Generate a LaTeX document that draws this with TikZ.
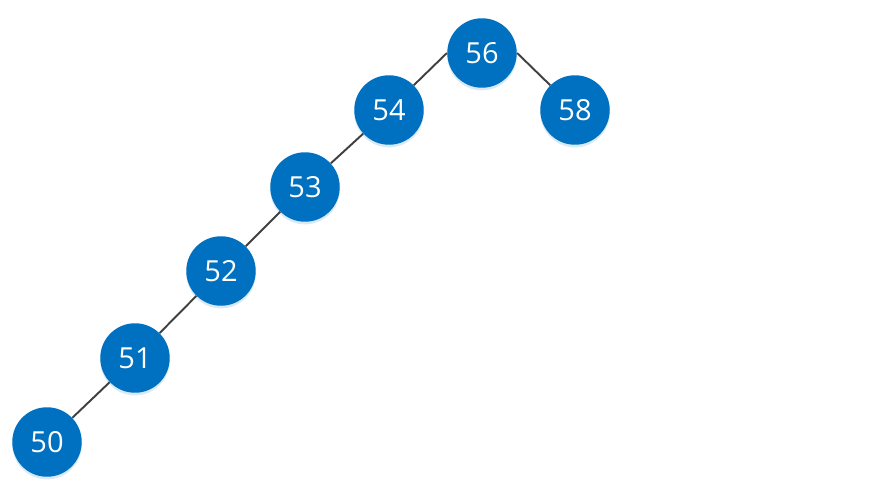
\documentclass[tikz,border=0pt]{standalone}
\usepackage{fontspec}
\setmainfont{Open Sans}
\usepackage{xcolor}
\usepackage{tikz}
\usetikzlibrary{shadows}
\definecolor{keyblue}{HTML}{0070C0}
\definecolor{edgegray}{HTML}{404040}

\begin{document}
\begin{tikzpicture}[x=0.02cm,y=-0.02cm,
key/.style={circle,fill=keyblue,text=white,minimum size=1.39cm,inner sep=0pt,
font=\fontsize{16.5}{18}\selectfont,
drop shadow={shadow xshift=0pt,shadow yshift=-1.5pt,fill=keyblue!25,opacity=0.6}},
link/.style={draw=edgegray,line width=1.1pt}]
\useasboundingbox (0,0) rectangle (879,490);
\node[key] (n56) at (482,53) {56};
\node[key] (n54) at (389,110) {54};
\node[key] (n58) at (575,110) {58};
\node[key] (n53) at (305,187) {53};
\node[key] (n52) at (221,271) {52};
\node[key] (n51) at (135,358) {51};
\node[key] (n50) at (47,442) {50};
\draw[link] (n56.west) -- (n54.45);
\draw[link] (n56.east) -- (n58.135);
\draw[link] (n54) -- (n53);
\draw[link] (n53) -- (n52);
\draw[link] (n52) -- (n51);
\draw[link] (n51) -- (n50);
\end{tikzpicture}
\end{document}
